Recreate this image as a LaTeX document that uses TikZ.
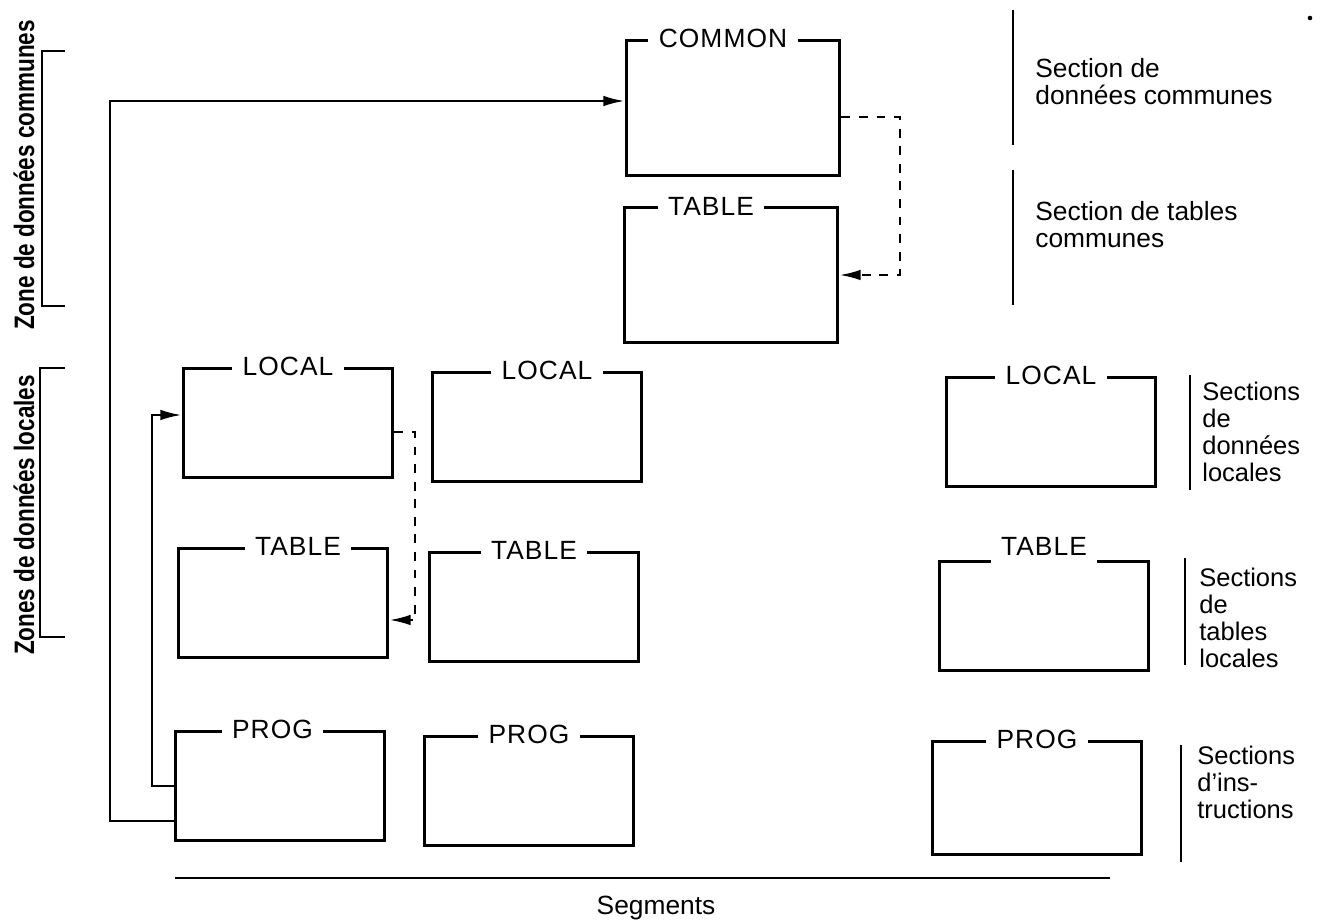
\documentclass[tikz,border=0pt]{standalone}
\usepackage{fontspec}
\setmainfont{Liberation Sans}
\newfontfamily\boxfont[LetterSpace=4]{Liberation Sans}
\usetikzlibrary{arrows.meta}

\tikzset{
  secbox/.style={draw, line width=1.7pt, minimum width=4.2cm, minimum height=2.2cm, inner sep=0pt},
  seclabel/.style={fill=white, inner xsep=6pt, inner ysep=1pt, font=\boxfont\fontsize{15}{15}\selectfont},
  desc/.style={anchor=north west, align=left, inner sep=0pt, font=\fontsize{15}{15.4}\selectfont},
  sdesc/.style={desc, font=\fontsize{14.5}{15.3}\selectfont},
  zonetext/.style={rotate=90, inner sep=0pt, font=\fontsize{16}{16}\selectfont\bfseries},
  link/.style={line width=1.3pt, -{Latex[length=12pt,width=6pt]}},
  dlink/.style={link, dash pattern=on 5pt off 5pt},
}

\begin{document}
\begin{tikzpicture}[x=0.02cm, y=-0.02cm]
  \useasboundingbox (0,0) rectangle (1330,922);
  % draw common sections
  \node[secbox, minimum width=4.28cm, minimum height=2.72cm] (common) at (733,108) {};
  \node[secbox, minimum width=4.28cm, minimum height=2.7cm] (ctable) at (731,275) {};
  \node[seclabel] (common_lbl) at ([xshift=-0.2cm]common.north) {COMMON};
  \node[seclabel] (ctable_lbl) at ([xshift=-0.4cm]ctable.north) {TABLE};
  % draw segment boxes, one column per segment
  \node[secbox] (local1) at (288,423) {};
  \node[secbox] (table1) at (283,603) {};
  \node[secbox] (prog1) at (280,786) {};
  \node[secbox] (local2) at (537,427) {};
  \node[secbox] (table2) at (534,607) {};
  \node[secbox] (prog2) at (529,791) {};
  \node[secbox] (local3) at (1051,432) {};
  \node[secbox] (table3) at (1044,616) {};
  \node[secbox, minimum height=2.28cm] (prog3) at (1037,798) {};
  \node[seclabel] (local1_lbl) at (local1.north) {LOCAL};
  \node[seclabel] (table1_lbl) at ([xshift=0.3cm]table1.north) {TABLE};
  \node[seclabel] (prog1_lbl) at ([xshift=-0.15cm]prog1.north) {PROG};
  \node[seclabel] (local2_lbl) at ([xshift=0.2cm]local2.north) {LOCAL};
  \node[seclabel] (table2_lbl) at (table2.north) {TABLE};
  \node[seclabel] (prog2_lbl) at (prog2.north) {PROG};
  \node[seclabel] (local3_lbl) at (local3.north) {LOCAL};
  \node[seclabel, anchor=base, text depth=0.25cm] (table3_lbl) at ([yshift=0.09cm]table3.north) {TABLE};
  \node[seclabel] (prog3_lbl) at (prog3.north) {PROG};
  % draw links from the PROG section
  \coordinate (outer) at (110,0);
  \coordinate (inner) at (152,0);
  \coordinate (common_in) at ([yshift=0.14cm]common.west);
  \coordinate (local1_in) at ([yshift=0.16cm]local1.west);
  \draw[link] ([yshift=-0.7cm]prog1.west) -| (outer |- common_in) -- (common_in);
  \draw[link] (prog1.west) -| (inner |- local1_in) -- (local1_in);
  % draw dashed links to the tables
  \coordinate (cdash) at (900,0);
  \coordinate (ldash) at (415,0);
  \coordinate (table1_in) at ([yshift=-0.34cm]table1.east);
  \draw[dlink] ([yshift=-0.18cm]common.east) -| (cdash |- ctable.east) -- (ctable.east);
  \draw[dlink] ([yshift=-0.18cm]local1.east) -| (ldash |- table1_in) -- (table1_in);
  % draw zone brackets on the left
  \draw[line width=1.5pt] (65,51) -- (42,51) -- (42,306) -- (65,306);
  \draw[line width=1.5pt] (65,368) -- (40,368) -- (40,637) -- (65,637);
  \node[zonetext] (zone_common) at (24,175) {\scalebox{0.8}[1]{Zone de données communes}};
  \node[zonetext] (zone_local) at (24,515) {\scalebox{0.8}[1]{Zones de données locales}};
  % draw section captions on the right
  \draw[line width=0.9pt] (1013,10) -- (1013,145);
  \draw[line width=0.9pt] (1013,170) -- (1013,305);
  \draw[line width=0.9pt] (1190,375) -- (1190,490);
  \draw[line width=0.9pt] (1185,558) -- (1185,665);
  \draw[line width=0.9pt] (1181,745) -- (1181,862);
  \node[desc] (cdata_txt) at (1035,58) {Section de\\données communes};
  \node[desc] (ctable_txt) at (1035,201) {Section de tables\\communes};
  \node[sdesc] (ldata_txt) at (1202,382) {Sections\\de\\données\\locales};
  \node[sdesc] (ltable_txt) at (1199,568) {Sections\\de\\tables\\locales};
  \node[sdesc] (prog_txt) at (1197,746) {Sections\\d'ins-\\tructions};
  % draw segments axis
  \draw[line width=1.7pt] (175,878) -- (1110,878);
  \node[font=\fontsize{15}{15}\selectfont] (segments) at (656,908) {Segments};
  \fill (1310,18) circle (1.3pt);
\end{tikzpicture}
\end{document}
